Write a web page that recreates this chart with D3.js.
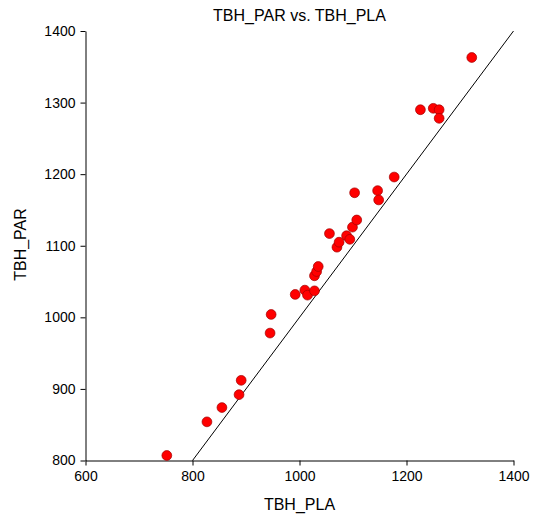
<!DOCTYPE html>
<html><head><meta charset="utf-8">
<script src="https://cdn.jsdelivr.net/npm/d3@7"></script>
<style>body{margin:0;background:#fff;} svg{display:block;}</style>
</head><body>
<svg id="chart" width="539" height="518"></svg>
<script>
const tbhPla = [752, 827, 855, 887, 891, 945, 947, 992, 1010, 1015, 1028, 1028, 1032, 1035, 1056, 1070, 1074, 1088, 1094, 1099, 1103, 1107, 1146, 1148, 1177, 1226, 1250, 1261, 1261, 1322];
const tbhPar = [807, 854, 874, 892, 912, 978, 1004, 1032, 1038, 1031, 1037, 1058, 1064, 1071, 1117, 1098, 1105, 1114, 1109, 1126, 1174, 1136, 1177, 1164, 1196, 1290, 1292, 1290, 1278, 1363];
const xTicks = [600, 800, 1000, 1200, 1400];
const yTicks = [800, 900, 1000, 1100, 1200, 1300, 1400];
const refLine = [800, 1400];

const svg = d3.select("#chart");
const x = d3.scaleLinear().domain([600, 1400]).range([85.5, 513.5]);
const y = d3.scaleLinear().domain([800, 1400]).range([460.5, 31]);
const font = "Arial, 'Liberation Sans', sans-serif";

svg.append("g").attr("transform", "translate(0,460.5)")
  .call(d3.axisBottom(x).tickValues(xTicks).tickFormat(d3.format("d")).tickSize(5).tickPadding(6).tickSizeOuter(0))
  .call(g => g.selectAll("text").attr("font-family", font).attr("font-size", 14).attr("fill", "#000"))
  .call(g => g.selectAll("line,path").attr("stroke", "#000"));
svg.append("g").attr("transform", "translate(85.5,0)")
  .call(d3.axisLeft(y).tickValues(yTicks).tickFormat(d3.format("d")).tickSize(5).tickPadding(5).tickSizeOuter(0))
  .call(g => g.selectAll("text").attr("font-family", font).attr("font-size", 14).attr("fill", "#000"))
  .call(g => g.selectAll("line,path").attr("stroke", "#000"));

svg.append("line")
  .attr("x1", x(refLine[0])).attr("y1", y(refLine[0]))
  .attr("x2", x(refLine[1])).attr("y2", y(refLine[1]))
  .attr("stroke", "#000").attr("stroke-width", 1);

svg.append("g").selectAll("circle").data(tbhPla.map((v, i) => [v, tbhPar[i]])).join("circle")
  .attr("cx", d => x(d[0])).attr("cy", d => y(d[1])).attr("r", 4.9)
  .attr("fill", "#ff0000").attr("stroke", "#a00000").attr("stroke-width", 0.7);

svg.append("text").attr("x", 299.5).attr("y", 21).attr("text-anchor", "middle")
  .attr("font-family", font).attr("font-size", 16).text("TBH_PAR vs. TBH_PLA");
svg.append("text").attr("x", 299.5).attr("y", 510).attr("text-anchor", "middle")
  .attr("font-family", font).attr("font-size", 16).text("TBH_PLA");
svg.append("text").attr("transform", "translate(26,244.5) rotate(-90)").attr("text-anchor", "middle")
  .attr("font-family", font).attr("font-size", 16).text("TBH_PAR");
</script>
</body></html>
